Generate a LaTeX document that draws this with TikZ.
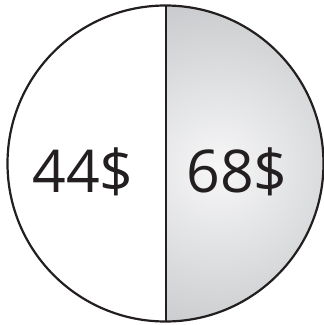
\documentclass[tikz,border=0pt]{standalone}
\usepackage{fontspec}
\setmainfont{Open Sans}
\definecolor{edgegray}{RGB}{186,188,191}
\definecolor{centergray}{RGB}{247,247,248}
\definecolor{ink}{RGB}{35,31,32}
\tikzset{
  outline/.style={draw=ink, line width=2.2pt},
  price/.style={text=ink, font=\fontsize{59}{59}\selectfont, anchor=base, inner sep=0pt}
}
\begin{document}
\begin{tikzpicture}[x=1pt,y=-1pt]
\useasboundingbox (0,0) rectangle (324,325);
\coordinate (c) at (165.5,163.5);
\coordinate (top) at (166,5.5);
\coordinate (bot) at (166,321.5);
\fill[white] (c) circle (158);
\begin{scope}
  \clip (166,0) rectangle (330,330);
  \clip (c) circle (158);
  \shade[inner color=centergray, outer color=edgegray] (218,168) circle (225);
\end{scope}
\draw[outline] (c) circle (158);
\draw[outline] (top) -- (bot);
\node[price] (left) at (83,192) {44\$};
\node[price] (right) at (237,192) {68\$};
\end{tikzpicture}
\end{document}
